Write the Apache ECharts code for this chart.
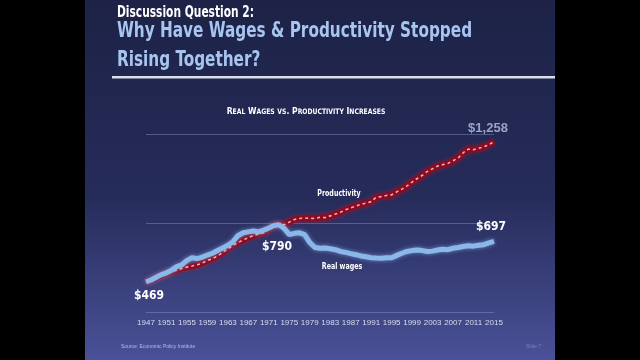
<!DOCTYPE html>
<html>
<head>
<meta charset="utf-8">
<style>html,body{margin:0;padding:0;background:#000;}#chart{width:640px;height:360px;}</style>
<script src="https://cdn.jsdelivr.net/npm/echarts@6/dist/echarts.min.js"></script>
</head>
<body>
<div id="chart"></div>
<script>
const years = [];
for (let y = 1947; y <= 2015; y++) years.push(String(y));

const realWages = [469,480,495,510,520,535,555,565,590,605,600,608,620,630,645,660,675,695,730,745,750,755,750,760,772,786,790,770,735,742,745,735,690,662,658,660,655,650,640,635,628,622,615,610,605,603,602,605,605,618,630,640,645,648,645,640,642,648,652,650,658,662,668,672,670,675,678,688,697];

const productivity = [469,478,490,505,515,526,535,545,552,558,565,575,590,600,615,635,655,675,690,705,718,730,738,745,765,785,795,790,805,820,825,828,826,825,832,830,840,850,860,875,885,895,905,912,920,945,948,955,958,975,990,1008,1030,1050,1068,1090,1105,1120,1128,1135,1150,1165,1195,1215,1212,1220,1228,1240,1258];

const yTicks = [300, 800, 1300];

const chartTitle = 'Real Wages vs. Productivity Increases';
const slideKicker = 'Discussion Question 2:';
const slideTitle1 = 'Why Have Wages & Productivity Stopped';
const slideTitle2 = 'Rising Together?';
const prodLabel = 'Productivity';
const wageLabel = 'Real wages';
const sourceText = 'Source: Economic Policy Institute';
const slideNo = 'Slide 7';

function smallCaps(str) {
  let out = '', cur = null, buf = '';
  for (const ch of str) {
    const t = (ch >= 'a' && ch <= 'z') ? 's' : 'b';
    if (t !== cur && buf) { out += '{' + cur + '|' + buf + '}'; buf = ''; }
    cur = t;
    buf += (t === 's') ? ch.toUpperCase() : ch;
  }
  if (buf) out += '{' + cur + '|' + buf + '}';
  return out;
}

const fmt = v => '$' + v.toLocaleString('en-US');
const last = years.length - 1;
const peakIdx = years.indexOf('1973');

const cond = '"DejaVu Sans Condensed", "DejaVu Sans", sans-serif';

function sText(x, y, text, fill, font, sx, align) {
  return { type: 'text', x: x, y: y, scaleX: sx, z: 10,
    style: { text: text, fill: fill, font: font, textAlign: align || 'left', textVerticalAlign: 'middle' } };
}

const chart = echarts.init(document.getElementById('chart'));
chart.setOption({
  backgroundColor: '#000',
  animation: false,
  graphic: [
    { type: 'rect', z: -10, shape: { x: 85, y: 0, width: 470, height: 360 },
      style: { fill: new echarts.graphic.LinearGradient(0, 0, 0, 1, [
        { offset: 0, color: '#1d2246' }, { offset: 0.55, color: '#262c5a' }, { offset: 1, color: '#4a5198' }]) } },
    { type: 'rect', z: 5, shape: { x: 112, y: 76, width: 443, height: 2.5 }, style: { fill: '#d8dde8' } },
    sText(117, 13, slideKicker, '#ffffff', 'bold 15px ' + cond, 0.79),
    sText(117, 31, slideTitle1, '#a8c4f0', 'bold 22px ' + cond, 0.772),
    sText(117, 60, slideTitle2, '#a8c4f0', 'bold 22px ' + cond, 0.772),
    sText(339, 194, prodLabel, '#ffffff', 'bold 9px ' + cond, 0.78, 'center'),
    sText(342, 267, wageLabel, '#ffffff', 'bold 9px ' + cond, 0.78, 'center'),
    sText(121, 347, sourceText, '#b8bde0', '5px "Liberation Sans", sans-serif', 1),
    sText(526, 347, slideNo, '#7a80b8', '5px "Liberation Sans", sans-serif', 1),
    { type: 'text', x: 306, y: 112, scaleX: 0.9, z: 10,
      style: { text: smallCaps(chartTitle), textAlign: 'center', textVerticalAlign: 'middle',
        rich: {
          b: { fontSize: 9.5, fontWeight: 'bold', fill: '#ffffff', fontFamily: cond },
          s: { fontSize: 7.5, fontWeight: 'bold', fill: '#ffffff', fontFamily: cond }
        } } }
  ],
  grid: { left: 146, right: 146, top: 134, bottom: 48 },
  xAxis: {
    type: 'category', data: years, boundaryGap: false,
    axisLine: { show: false }, axisTick: { show: false },
    axisLabel: { interval: 3, color: '#d8dcf0', fontSize: 8, margin: 7, fontFamily: '"Liberation Sans", sans-serif' },
    splitLine: { show: false }
  },
  yAxis: {
    type: 'value', min: yTicks[0], max: yTicks[yTicks.length - 1], interval: yTicks[1] - yTicks[0],
    axisLabel: { show: false }, axisLine: { show: false }, axisTick: { show: false },
    splitLine: { lineStyle: { color: 'rgba(140,150,200,0.45)', width: 1 } }
  },
  series: [
    { type: 'line', data: productivity, symbol: 'none', z: 2,
      lineStyle: { color: '#8a0c20', width: 6, shadowColor: 'rgba(200,20,40,0.6)', shadowBlur: 4 } },
    { type: 'line', data: productivity.map((v, i) => i === last ? { value: v, label: { show: true, formatter: () => fmt(v), position: 'top', distance: 7, offset: [-6, 0], color: '#9aa4c4', fontSize: 13, fontWeight: 'bold', fontFamily: '"Liberation Sans", sans-serif' } } : v),
      symbol: 'circle', symbolSize: 0.1, z: 3,
      itemStyle: { color: 'rgba(0,0,0,0)' },
      lineStyle: { color: '#f2a8b8', width: 1.6, type: [3, 3] } },
    { type: 'line', data: realWages.map((v, i) => {
        if (i === 0) return { value: v, label: { show: true, formatter: () => fmt(v), position: 'bottom', distance: 8, offset: [3, 0] } };
        if (i === peakIdx) return { value: v, label: { show: true, formatter: () => fmt(v), position: 'bottom', distance: 16, offset: [-2, 0] } };
        if (i === last) return { value: v, label: { show: true, formatter: () => fmt(v), position: 'top', distance: 8, offset: [-3, 0] } };
        return v;
      }),
      symbol: 'circle', symbolSize: 0.1, z: 4,
      itemStyle: { color: 'rgba(0,0,0,0)' },
      label: { color: '#ffffff', fontSize: 12, fontWeight: 'bold', fontFamily: cond },
      lineStyle: { color: '#8ab8ea', width: 5, shadowColor: 'rgba(150,190,255,0.6)', shadowBlur: 4 } }
  ]
});
</script>
</body>
</html>
